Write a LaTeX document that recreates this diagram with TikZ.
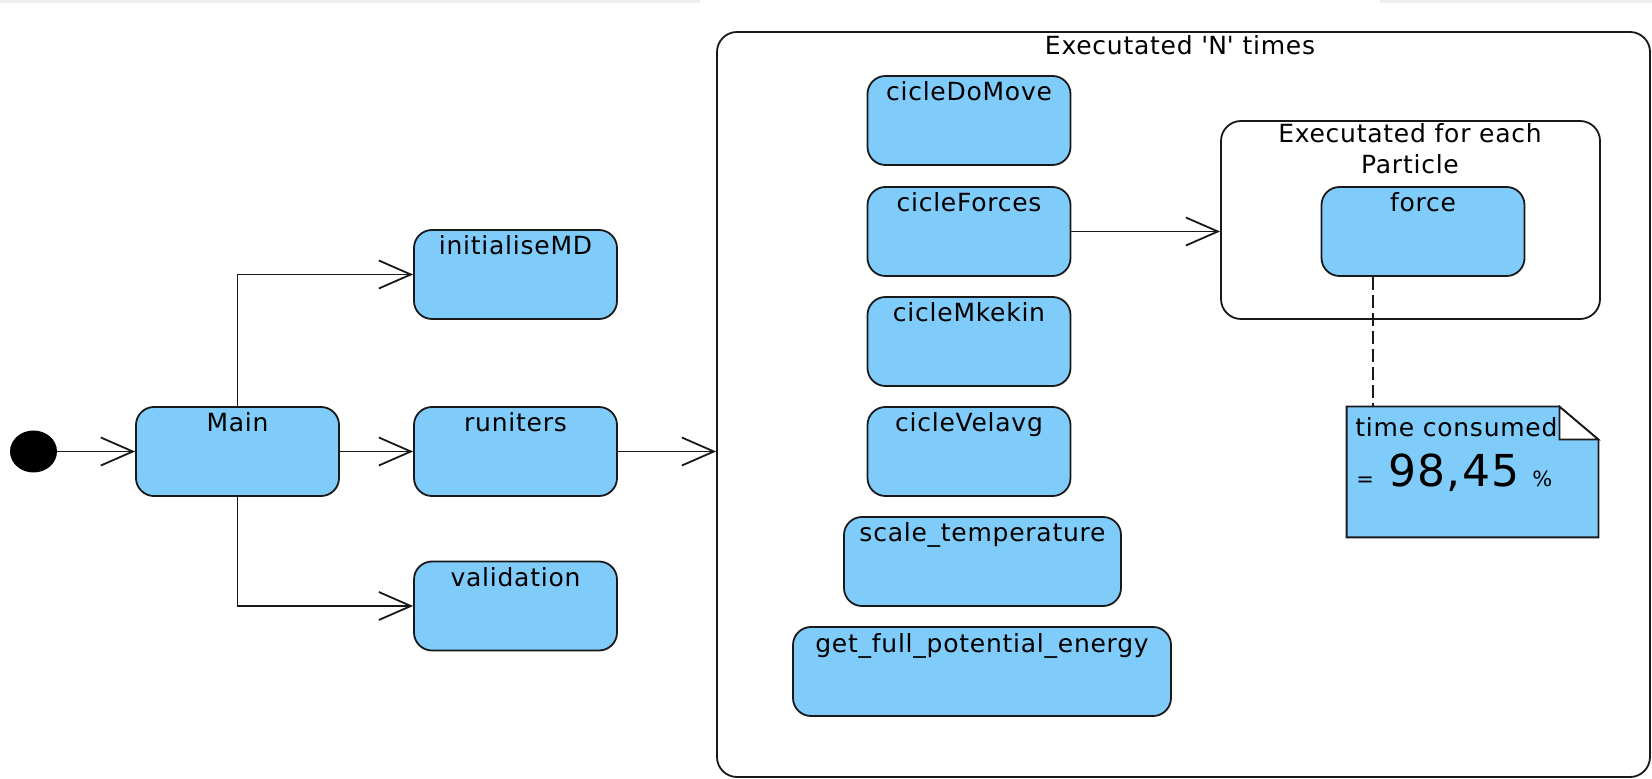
\documentclass[tikz,border=0pt]{standalone}
\usepackage{fontspec}
\setmainfont{DejaVu Sans}[LetterSpace=3.0]
\usetikzlibrary{arrows.meta,shapes.geometric}
\definecolor{boxblue}{RGB}{127,203,249}
\definecolor{edge}{RGB}{25,25,25}
\definecolor{strip}{RGB}{238,238,238}
\begin{document}
\begin{tikzpicture}[x=0.5pt,y=-0.5pt,
  lblfont/.style={font=\fontsize{12.5pt}{15pt}\selectfont},
  act/.style={draw=edge, line width=0.9pt, fill=boxblue, rounded corners=9pt,
    minimum width=101.5pt, inner xsep=0pt, inner ysep=0pt,
    text height=12.5pt, text depth=32pt, lblfont},
  grp/.style={draw=edge, line width=0.9pt, rounded corners=10pt, inner sep=0pt},
  flow/.style={draw=edge, line width=0.9pt, -{Straight Barb[length=16pt,width=14pt]}},
  lbl/.style={lblfont, inner sep=0pt, anchor=base},
  txt/.style={inner sep=0pt, anchor=base west},
]
\useasboundingbox (0,0) rectangle (1652,779);
\fill[strip] (0,0) rectangle (700,3);
\fill[strip] (1380,0) rectangle (1652,3);

% groups
\node[grp, minimum width=466.5pt, minimum height=372.5pt] (outer) at (1183.5,404.5) {};
\node[lbl] (outerTitle) at (1180,55) {Executated \textquotesingle N\textquotesingle\ times};
\node[grp, minimum width=189.5pt, minimum height=99pt] (inner) at (1410.5,220) {};
\node[lbl] (innerTitleA) at (1410,143) {Executated for each};
\node[lbl] (innerTitleB) at (1410,174) {Particle};

% start
\node[ellipse, fill=black, minimum width=23.5pt, minimum height=21pt, inner sep=0pt] (start) at (33.5,451.5) {};

% activities
\node[act] (Main) at (237.5,451.5) {Main};
\node[act] (initialiseMD) at (515.5,274.5) {initialiseMD};
\node[act] (runiters) at (515.5,451.5) {runiters};
\node[act] (validation) at (515.5,606) {validation};

\node[act] (cicleDoMove) at (969,120.5) {cicleDoMove};
\node[act] (cicleForces) at (969,231.5) {cicleForces};
\node[act] (cicleMkekin) at (969,341.5) {cicleMkekin};
\node[act] (cicleVelavg) at (969,451.5) {cicleVelavg};
\node[act, minimum width=138.5pt] (scaleT) at (982.5,561.5) {scale\_temperature};
\node[act, minimum width=189pt] (getE) at (982,671.5) {get\_full\_potential\_energy};
\node[act] (force) at (1423,231.5) {force};

% connectors
\draw[flow] (start) -- (Main.west);
\draw[flow] (Main) -- (runiters);
\draw[flow] (Main.north) |- (initialiseMD.west);
\draw[flow] (Main.south) |- (validation.west);
\draw[flow] (runiters.east) -- (runiters.east -| outer.west);
\draw[flow] (cicleForces.east) -- (cicleForces.east -| inner.west);

% note
\node[minimum width=125.5pt, minimum height=65pt, inner sep=0pt] (note) at (1472.5,472) {};
\filldraw[fill=boxblue, draw=edge, line width=0.9pt]
  (note.north west) -- ([xshift=-19.5pt]note.north east) -- ([yshift=-16.5pt]note.north east)
  -- (note.south east) -- (note.south west) -- cycle;
\filldraw[fill=white, draw=edge, line width=0.9pt]
  ([xshift=-19.5pt]note.north east) -- ([xshift=-19.5pt,yshift=-16.5pt]note.north east)
  -- ([yshift=-16.5pt]note.north east) -- cycle;
\draw[edge, line width=0.8pt, dash pattern=on 6.5pt off 2.5pt]
  ([xshift=-25pt]force.south) -- ([xshift=-25pt]force.south |- note.north);

\node[txt, lblfont] (tc) at (1355,437) {time consumed};
\node[txt, font=\fontsize{10.5pt}{12pt}\selectfont] (eq) at (1356,487) {=};
\node[txt, font=\fontsize{22pt}{26pt}\selectfont] (val) at (1388,487) {98,45};
\node[txt, font=\fontsize{10.5pt}{12pt}\selectfont] (pc) at (1532,487) {\%};
\end{tikzpicture}
\end{document}
